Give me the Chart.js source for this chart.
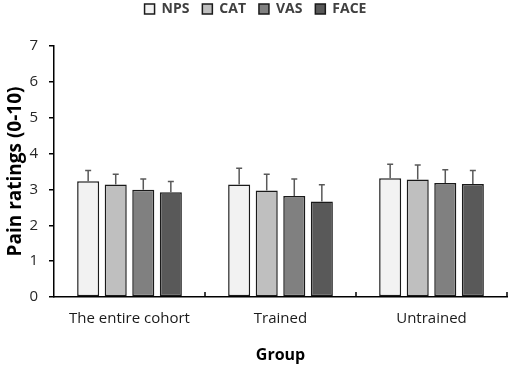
<!DOCTYPE html>
<html>
<head>
<meta charset="utf-8">
<script src="https://cdn.jsdelivr.net/npm/chart.js@4"></script>
<style>
  html, body { margin: 0; padding: 0; background: #fff; }
  #wrap { width: 510px; height: 368px; }
</style>
</head>
<body>
<div id="wrap"><canvas id="chart" width="510" height="368"></canvas></div>
<script>
// Pain ratings by group and scale
const groups = ['The entire cohort', 'Trained', 'Untrained'];
const scaleNames = ['NPS', 'CAT', 'VAS', 'FACE'];
const npsMean = [3.23, 3.14, 3.31];
const catMean = [3.14, 2.97, 3.28];
const vasMean = [2.99, 2.82, 3.18];
const faceMean = [2.92, 2.66, 3.15];
const npsErr = [0.30, 0.45, 0.39];
const catErr = [0.28, 0.45, 0.40];
const vasErr = [0.30, 0.47, 0.37];
const faceErr = [0.30, 0.47, 0.38];
const yTicks = [0, 1, 2, 3, 4, 5, 6, 7];

const fills = ['#f2f2f2', '#bfbfbf', '#808080', '#595959'];
const means = [npsMean, catMean, vasMean, faceMean];
const errs = [npsErr, catErr, vasErr, faceErr];
const FONT = "'Open Sans', sans-serif";

// push plot area down below the legend
const legendSpace = {
  id: 'legendSpace',
  beforeInit(chart) {
    const fit = chart.legend.fit;
    chart.legend.fit = function () {
      fit.call(this);
      this.height += 20;
    };
  }
};

// Error bars + inside category ticks
const errorBars = {
  id: 'errorBars',
  afterDatasetsDraw(chart) {
    const ctx = chart.ctx;
    const y = chart.scales.y;
    const x = chart.scales.x;
    ctx.save();
    ctx.strokeStyle = '#595959';
    ctx.lineWidth = 1.5;
    chart.data.datasets.forEach((ds, i) => {
      const meta = chart.getDatasetMeta(i);
      meta.data.forEach((bar, j) => {
        const top = y.getPixelForValue(ds.data[j] + errs[i][j]);
        const base = y.getPixelForValue(ds.data[j]);
        ctx.beginPath();
        ctx.moveTo(bar.x, base);
        ctx.lineTo(bar.x, top);
        ctx.moveTo(bar.x - 3, top);
        ctx.lineTo(bar.x + 3, top);
        ctx.stroke();
      });
    });
    // category boundary ticks on x axis
    ctx.strokeStyle = '#000';
    ctx.lineWidth = 1.5;
    const bottom = chart.chartArea.bottom;
    const step = (x.right - x.left) / groups.length;
    for (let k = 1; k <= groups.length; k++) {
      const px = Math.round(x.left + step * k);
      ctx.beginPath();
      ctx.moveTo(px, bottom);
      ctx.lineTo(px, bottom - 5);
      ctx.stroke();
    }
    ctx.restore();
  }
};

new Chart(document.getElementById('chart'), {
  type: 'bar',
  data: {
    labels: groups,
    datasets: scaleNames.map((name, i) => ({
      label: name,
      data: means[i],
      backgroundColor: fills[i],
      borderColor: '#1a1a1a',
      borderWidth: 1.5,
      borderSkipped: false,
      categoryPercentage: 0.73,
      barPercentage: 0.8
    }))
  },
  options: {
    responsive: false,
    animation: false,
    layout: { padding: { left: 4, right: 3, top: 0, bottom: 3 } },
    plugins: {
      legend: {
        position: 'top',
        labels: {
          boxWidth: 10,
          boxHeight: 10,
          padding: 2,
          color: '#404040',
          font: { family: FONT, size: 14, weight: 'bold' },
          generateLabels: (chart) => chart.data.datasets.map((ds, i) => ({
            text: i < scaleNames.length - 1 ? ds.label + '   ' : ds.label,
            fillStyle: fills[i],
            strokeStyle: '#1a1a1a',
            lineWidth: 1.5,
            fontColor: '#404040',
            datasetIndex: i
          }))
        }
      },
      tooltip: { enabled: false }
    },
    scales: {
      x: {
        afterFit: (s) => { s.height = 68; },
        grid: { display: false, drawTicks: false },
        border: { color: '#000', width: 1.5 },
        ticks: {
          color: '#1a1a1a',
          padding: 13,
          font: { family: FONT, size: 15 }
        },
        title: {
          display: true,
          text: 'Group',
          color: '#000',
          padding: { top: 16, bottom: 0 },
          font: { family: FONT, size: 16, weight: 'bold' }
        }
      },
      y: {
        min: 0,
        max: 7,
        afterFit: (s) => { s.width = 50; },
        afterBuildTicks: (s) => { s.ticks = yTicks.map(v => ({ value: v })); },
        grid: { display: true, drawOnChartArea: false, tickLength: 5, color: '#000', lineWidth: 1.5 },
        border: { color: '#000', width: 1.5 },
        ticks: {
          color: '#262626',
          padding: 11,
          font: { family: FONT, size: 15 }
        },
        title: {
          display: true,
          text: 'Pain ratings (0-10)',
          color: '#000',
          padding: { top: 0, bottom: 2 },
          font: { family: FONT, size: 19, weight: 'bold' }
        }
      }
    }
  },
  plugins: [legendSpace, errorBars]
});
</script>
</body>
</html>
